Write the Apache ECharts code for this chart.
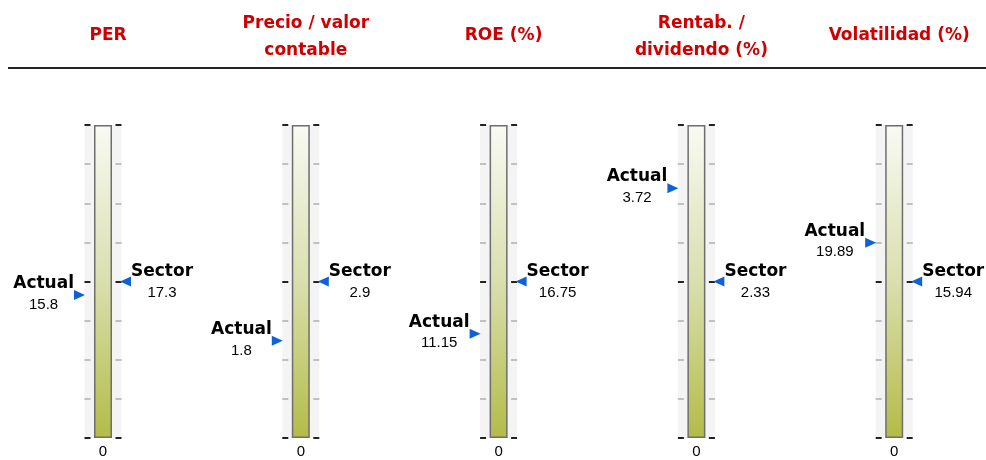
<!DOCTYPE html>
<html>
<head>
<meta charset="utf-8">
<script src="https://cdn.jsdelivr.net/npm/echarts@6/dist/echarts.min.js"></script>
<style>
html,body{margin:0;padding:0;background:#fff;}
#chart{width:986px;height:460px;}
</style>
</head>
<body>
<div id="chart"></div>
<script>
// ---- data ----
const metrics = ['PER', 'Precio / valor\ncontable', 'ROE (%)', 'Rentab. /\ndividendo (%)', 'Volatilidad (%)'];
const actualValues = [15.8, 1.8, 11.15, 3.72, 19.89];
const sectorValues = [17.3, 2.9, 16.75, 2.33, 15.94];
const minTickLabels = ['0', '0', '0', '0', '0'];
const markerNames = ['Actual', 'Sector'];

// ---- layout / style ----
const firstCenter = 103, colStep = 197.8;
const gridTop = 125, gridHeight = 313, bandWidth = 37;
const blue = '#0f62d6';
const titleColor = '#d00000';

const chart = echarts.init(document.getElementById('chart'), null, {renderer: 'canvas'});

const titles = [], grids = [], xAxes = [], yAxes = [], series = [];

const richStyle = {
  a: {fontFamily: 'DejaVu Sans', fontWeight: 'bold', fontSize: 17, color: '#000', align: 'center', lineHeight: 21},
  b: {fontFamily: 'Liberation Sans', fontSize: 15, color: '#000', align: 'center', lineHeight: 21}
};

metrics.forEach(function (m, i) {
  const cx = firstCenter + i * colStep;
  const twoLines = m.indexOf('\n') >= 0;
  const axisMax = sectorValues[i] * 2;
  titles.push({
    text: m,
    left: cx,
    textAlign: 'center',
    top: twoLines ? 5 : 17,
    textStyle: {
      fontFamily: 'DejaVu Sans', fontWeight: 'bold', fontSize: 17,
      color: titleColor, lineHeight: 27
    }
  });
  grids.push({
    left: cx - bandWidth / 2, width: bandWidth, top: gridTop, height: gridHeight,
    show: true, backgroundColor: '#f4f4f4', borderWidth: 0
  });
  xAxes.push({
    type: 'category', gridIndex: i, data: [minTickLabels[i]],
    axisLine: {show: false}, axisTick: {show: false},
    axisLabel: {margin: 6, fontFamily: 'Liberation Sans', fontSize: 15, color: '#000'}
  });
  ['left', 'right'].forEach(function (pos) {
    yAxes.push({
      type: 'value', gridIndex: i, position: pos,
      min: 0, max: axisMax, interval: sectorValues[i],
      axisLine: {show: false}, splitLine: {show: false}, axisLabel: {show: false},
      axisTick: {show: true, inside: true, length: 6, lineStyle: {color: '#222', width: 2}},
      minorTick: {show: true, splitNumber: 4, length: 6, lineStyle: {color: '#c0c0c0', width: 2}}
    });
  });
  series.push({
    type: 'bar', xAxisIndex: i, yAxisIndex: i * 2, silent: true,
    data: [axisMax], barWidth: 18,
    itemStyle: {
      color: new echarts.graphic.LinearGradient(0, 0, 0, 1, [
        {offset: 0, color: '#f9faf3'},
        {offset: 0.5, color: '#d9dfae'},
        {offset: 1, color: '#b3bc47'}
      ]),
      borderColor: '#6e6e6e', borderWidth: 1.5
    },
    z: 2
  });
  series.push({
    type: 'scatter', name: markerNames[0], xAxisIndex: i, yAxisIndex: i * 2, silent: true,
    data: [actualValues[i]],
    symbol: 'path://M0,0L10,5L0,10Z', symbolSize: [11, 10], symbolOffset: [-23.5, 0],
    itemStyle: {color: blue, opacity: 1},
    label: {
      show: true, position: 'left', distance: 0, offset: [0, -1],
      formatter: function (p) { return '{a|' + markerNames[0] + '}\n{b|' + p.value + '}'; },
      rich: richStyle
    },
    z: 5
  });
  series.push({
    type: 'scatter', name: markerNames[1], xAxisIndex: i, yAxisIndex: i * 2, silent: true,
    data: [sectorValues[i]],
    symbol: 'path://M10,0L0,5L10,10Z', symbolSize: [11, 10], symbolOffset: [22.5, 0],
    itemStyle: {color: blue, opacity: 1},
    label: {
      show: true, position: 'right', distance: 0, offset: [0, 1],
      formatter: function (p) { return '{a|' + markerNames[1] + '}\n{b|' + p.value + '}'; },
      rich: richStyle
    },
    z: 5
  });
});

chart.setOption({
  animation: false,
  backgroundColor: '#fff',
  title: titles,
  grid: grids,
  xAxis: xAxes,
  yAxis: yAxes,
  series: series,
  graphic: [{
    type: 'line', silent: true,
    shape: {x1: 8, y1: 68, x2: 986, y2: 68},
    style: {stroke: '#222', lineWidth: 2}
  }]
});
</script>
</body>
</html>
